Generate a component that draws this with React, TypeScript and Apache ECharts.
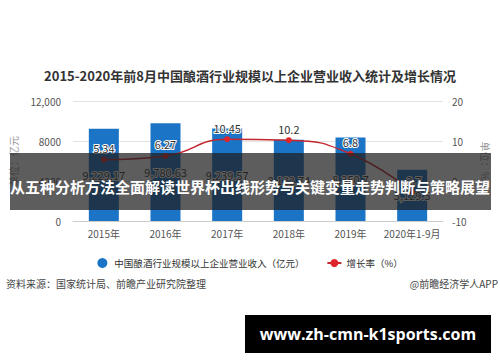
import React, { useEffect, useRef } from "react";
import * as echarts from "echarts";

const categories = ["2015年", "2016年", "2017年", "2018年", "2019年", "2020年1-9月"];
const revenue = [9229.17, 9780.63, 9239.57, 8122.74, 8350.7, 5129.5];
const growth = [5.34, 6.27, 10.45, 10.2, 6.8, -2.7];
const leftTicks = { min: 0, max: 12000, interval: 4000 };
const rightTicks = { min: -10, max: 20, interval: 10 };

const title = "2015-2020年前8月中国酿酒行业规模以上企业营业收入统计及增长情况";
const barName = "中国酿酒行业规模以上企业营业收入（亿元）";
const lineName = "增长率（%）";
const source = "资料来源：国家统计局、前瞻产业研究院整理";
const credit = "@前瞻经济学人APP";
const banner = "从五种分析方法全面解读世界杯出线形势与关键变量走势判断与策略展望";
const site = "www.zh-cmn-k1sports.com";

const FONT = '"Noto Sans CJK SC", "Noto Sans", sans-serif';

export default function App() {
  const ref = useRef<HTMLDivElement>(null);
  useEffect(() => {
    document.body.style.margin = "0";
    const chart = echarts.init(ref.current!, null, { renderer: "svg" });
    chart.setOption({
      animation: false,
      backgroundColor: "#fff",
      textStyle: { fontFamily: FONT },
      title: {
        text: title,
        left: "center",
        top: 64,
        textStyle: { fontSize: 13, fontWeight: "bold", color: "#333", fontFamily: FONT },
      },
      grid: { left: 69, right: 57, top: 101, bottom: 141 },
      legend: {
        top: 253,
        left: "center",
        itemGap: 22,
        itemWidth: 14,
        itemHeight: 10,
        textStyle: { fontSize: 9.5, color: "#333" },
        data: [
          { name: barName, icon: "circle" },
          { name: lineName },
        ],
      },
      xAxis: {
        type: "category",
        data: categories,
        axisLine: { lineStyle: { color: "#ccc" } },
        axisTick: { show: false },
        axisLabel: { color: "#555", fontSize: 10, margin: 7, interval: 0 },
      },
      yAxis: [
        {
          type: "value",
          ...leftTicks,
          name: "单位：亿元",
          nameLocation: "middle",
          nameGap: 55,
          nameTextStyle: { color: "#999", fontSize: 10 },
          axisLabel: {
            color: "#555",
            fontSize: 10,
            margin: 12,
            formatter: (v: number) => (v >= 10000 ? v.toLocaleString("en-US") : String(v)),
          },
          splitLine: { lineStyle: { color: "#e3e3e3" } },
          axisLine: { show: false },
          axisTick: { show: false },
        },
        {
          type: "value",
          ...rightTicks,
          name: "单位：%",
          nameLocation: "middle",
          nameRotate: -90,
          nameGap: 38,
          nameTextStyle: { color: "#999", fontSize: 10 },
          axisLabel: { color: "#555", fontSize: 10, margin: 9 },
          splitLine: { show: false },
          axisLine: { show: false },
          axisTick: { show: false },
        },
      ],
      series: [
        {
          name: barName,
          type: "bar",
          data: revenue,
          barWidth: 30,
          itemStyle: { color: "#1b74c5" },
          label: {
            show: true,
            position: "inside",
            color: "#333",
            fontSize: 11,
            textBorderColor: "#fff",
            textBorderWidth: 2,
            formatter: (p: any) => p.value.toLocaleString("en-US", { maximumFractionDigits: 2 }),
          },
        },
        {
          name: lineName,
          type: "line",
          yAxisIndex: 1,
          data: growth,
          smooth: true,
          symbol: "circle",
          symbolSize: 6,
          lineStyle: { color: "#c4262d", width: 1.5 },
          itemStyle: { color: "#e0242b" },
          label: {
            show: true,
            position: "top",
            distance: 3,
            color: "#333",
            fontSize: 11,
            textBorderColor: "#fff",
            textBorderWidth: 2,
          },
        },
      ],
      graphic: [
        {
          type: "rect",
          shape: { x: 10, y: 153, width: 481, height: 57 },
          style: { fill: "rgba(30,30,30,0.72)" },
          z: 100,
        },
        {
          type: "text",
          x: 250,
          y: 186,
          z: 101,
          style: {
            text: banner,
            fill: "#fff",
            fontSize: 15,
            fontWeight: "bold",
            fontFamily: FONT,
            align: "center",
            verticalAlign: "middle",
          },
        },
        {
          type: "text",
          x: 6,
          y: 283,
          style: {
            text: source,
            fill: "#444",
            fontSize: 10,
            fontFamily: FONT,
            align: "left",
            verticalAlign: "middle",
          },
        },
        {
          type: "text",
          x: 498,
          y: 283,
          style: {
            text: credit,
            fill: "#444",
            fontSize: 10,
            fontFamily: FONT,
            align: "right",
            verticalAlign: "middle",
          },
        },
        {
          type: "rect",
          shape: { x: 245, y: 315, width: 246, height: 38 },
          style: { fill: "#000" },
          z: 100,
        },
        {
          type: "text",
          x: 368,
          y: 334,
          z: 101,
          style: {
            text: site,
            fill: "#fff",
            fontSize: 16,
            fontWeight: "bold",
            fontFamily: '"Open Sans", "DejaVu Sans", sans-serif',
            align: "center",
            verticalAlign: "middle",
          },
        },
      ],
    });
    return () => chart.dispose();
  }, []);
  return <div ref={ref} style={{ width: 500, height: 362 }} />;
}
